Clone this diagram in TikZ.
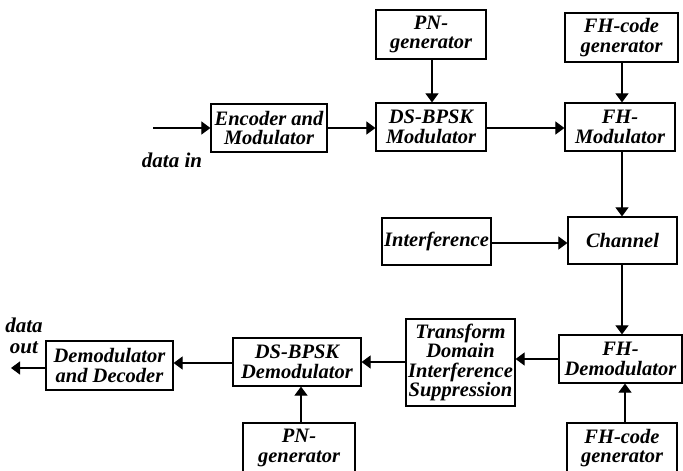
\documentclass[tikz,border=0pt]{standalone}
\usepackage{fontspec}
\setmainfont{Liberation Serif}
\usetikzlibrary{arrows.meta}
\begin{document}
\begin{tikzpicture}[x=1pt,y=-1pt,
  blk/.style={draw, line width=1.2pt, inner sep=0pt, align=center,
    font=\fontsize{20.5}{19.5}\selectfont\bfseries\itshape},
  lbl/.style={inner sep=0pt, align=center,
    font=\fontsize{21}{21}\selectfont\bfseries\itshape},
  flow/.style={line width=1.1pt, -{Triangle[length=9pt,width=13pt]}}]
\useasboundingbox (0,0) rectangle (683,471);

% transmitter chain
\node[blk, minimum width=116pt, minimum height=48pt] (enc) at (269,128) {Encoder and\\Modulator};
\node[blk, minimum width=110pt, minimum height=48pt] (dsmod) at (431,127) {DS-BPSK\\Modulator};
\node[blk, minimum width=110pt, minimum height=49pt] (pn1) at (431,34.5) {PN-\\generator};
\node[blk, minimum width=113pt, minimum height=49pt] (fhc1) at (621.5,37.5) {FH-code\\generator};
\node[blk, minimum width=110pt, minimum height=48pt] (fhmod) at (620,127) {FH-\\Modulator};

% channel
\node[blk, minimum width=109pt, minimum height=47pt] (chan) at (622.5,240.5) {Channel};
\node[blk, minimum width=109pt, minimum height=47pt] (interf) at (436.5,241.5) {Interference};

% receiver chain
\node[blk, minimum width=123pt, minimum height=48pt] (fhdemod) at (620.5,359) {FH-\\Demodulator};
\node[blk, minimum width=109pt, minimum height=87pt] (tdis) at (460.5,362.5) {Transform\\Domain\\Interference\\Suppression};
\node[blk, minimum width=110pt, minimum height=50pt] (fhc2) at (622,448) {FH-code\\generator};
\node[blk, minimum width=128pt, minimum height=48pt] (dsdemod) at (297,362) {DS-BPSK\\Demodulator};
\node[blk, minimum width=112pt, minimum height=50pt] (pn2) at (299,448) {PN-\\generator};
\node[blk, minimum width=127pt, minimum height=49pt] (dd) at (109.5,365.5) {Demodulator\\and Decoder};

% free ends and labels
\coordinate (src) at (153,128);
\coordinate (sink) at (11,368);
\node[lbl] (din) at (172,160) {data in};
\node[lbl] (dout) at (24,336) {data\\out};

% connectors
\draw[flow] (src) -- (enc.west |- src);
\draw[flow] (enc.east |- src) -- (dsmod.west |- src);
\draw[flow] (pn1.south -| 432,0) -- (dsmod.north -| 432,0);
\draw[flow] (dsmod.east |- src) -- (fhmod.west |- src);
\draw[flow] (fhc1.south -| 622,0) -- (fhmod.north -| 622,0);
\draw[flow] (fhmod.south -| 622,0) -- (chan.north -| 622,0);
\draw[flow] (interf.east |- 0,243) -- (chan.west |- 0,243);
\draw[flow] (chan.south -| 622,0) -- (fhdemod.north -| 622,0);
\draw[flow] (fhdemod.west |- 0,359) -- (tdis.east |- 0,359);
\draw[flow] (fhc2.north -| 625,0) -- (fhdemod.south -| 625,0);
\draw[flow] (tdis.west |- 0,362) -- (dsdemod.east |- 0,362);
\draw[flow] (pn2.north -| 301,0) -- (dsdemod.south -| 301,0);
\draw[flow] (dsdemod.west |- 0,363) -- (dd.east |- 0,363);
\draw[flow] (dd.west |- sink) -- (sink);
\end{tikzpicture}
\end{document}
